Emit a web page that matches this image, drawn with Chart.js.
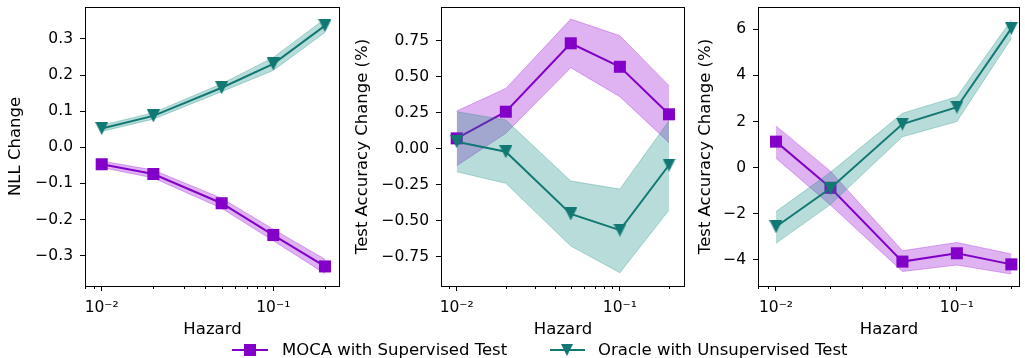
<!DOCTYPE html>
<html><head><meta charset="utf-8">
<script src="https://cdn.jsdelivr.net/npm/chart.js@4/dist/chart.umd.min.js"></script>
<style>
html,body{margin:0;padding:0;background:#fff;}
body{width:1025px;height:358px;position:relative;overflow:hidden;font-family:"DejaVu Sans";}
canvas{position:absolute;top:0;}
.leg{position:absolute;top:340px;height:20px;line-height:20px;font-size:16.5px;color:#000;white-space:nowrap;font-family:"DejaVu Sans";}
svg{position:absolute;left:0;top:338px;}
</style></head><body>
<canvas id="c1" width="345" height="358" style="left:0px"></canvas>
<canvas id="c2" width="345" height="358" style="left:345px"></canvas>
<canvas id="c3" width="335" height="358" style="left:690px"></canvas>
<svg width="1025" height="20">
  <line x1="232" y1="12" x2="268" y2="12" stroke="#8200c8" stroke-width="2"/>
  <rect x="244" y="6" width="12" height="12" fill="#8200c8"/>
  <line x1="550" y1="12" x2="585" y2="12" stroke="#127873" stroke-width="2"/>
  <polygon points="561,6 573,6 567,18" fill="#127873"/>
</svg>
<div class="leg" style="left:282px">MOCA with Supervised Test</div>
<div class="leg" style="left:598px">Oracle with Unsupervised Test</div>
<script>
// x categories (hazard)
const hazard = [0.01, 0.02, 0.05, 0.1, 0.2];

// Panel 1: NLL Change
const nllMoca     = [-0.047, -0.074, -0.155, -0.243, -0.330];
const nllMocaHi   = [-0.038, -0.063, -0.141, -0.227, -0.310];
const nllMocaLo   = [-0.056, -0.085, -0.169, -0.259, -0.350];
const nllOracle   = [0.052, 0.087, 0.165, 0.231, 0.337];
const nllOracleHi = [0.061, 0.096, 0.176, 0.249, 0.356];
const nllOracleLo = [0.044, 0.078, 0.154, 0.213, 0.318];

// Panel 2: Test Accuracy Change (%)
const accMoca     = [0.072, 0.257, 0.732, 0.569, 0.239];
const accMocaHi   = [0.262, 0.419, 0.900, 0.785, 0.438];
const accMocaLo   = [-0.118, 0.107, 0.563, 0.361, 0.042];
const accOracle   = [0.049, -0.021, -0.453, -0.565, -0.113];
const accOracleHi = [0.257, 0.200, -0.224, -0.280, 0.194];
const accOracleLo = [-0.160, -0.240, -0.676, -0.861, -0.426];

// Panel 3: Test Accuracy Change (%)
const acc2Moca     = [1.13, -0.87, -4.07, -3.71, -4.19];
const acc2MocaHi   = [1.81, -0.15, -3.60, -3.24, -3.74];
const acc2MocaLo   = [0.41, -1.62, -4.50, -4.22, -4.61];
const acc2Oracle   = [-2.56, -0.89, 1.89, 2.62, 6.04];
const acc2OracleHi = [-1.90, -0.20, 2.36, 3.08, 6.40];
const acc2OracleLo = [-3.28, -1.60, 1.34, 2.00, 5.60];

// tick values / labels
const nllTicks  = [-0.3, -0.2, -0.1, 0, 0.1, 0.2, 0.3];
const accTicks  = [-0.75, -0.5, -0.25, 0, 0.25, 0.5, 0.75];
const acc2Ticks = [-4, -2, 0, 2, 4, 6];
const xMajor = [0.01, 0.1];
const xMajorLabels = ['10\u207B\u00B2', '10\u207B\u00B9'];
const xMinor = [0.008, 0.009, 0.02, 0.03, 0.04, 0.05, 0.06, 0.07, 0.08, 0.09, 0.2];

const seriesNames = ['MOCA with Supervised Test', 'Oracle with Unsupervised Test'];
const xTitle = 'Hazard';

const PURPLE = '#8200c8', PURPLE_BAND = 'rgba(148,0,211,0.30)';
const TEAL = '#127873', TEAL_BAND = 'rgba(20,140,130,0.30)';

Chart.defaults.font.family = '"DejaVu Sans"';
Chart.defaults.color = '#000';

function triCanvas(color, size) {
  const c = document.createElement('canvas');
  c.width = size; c.height = size;
  const g = c.getContext('2d');
  g.fillStyle = color;
  g.beginPath(); g.moveTo(0, 0); g.lineTo(size, 0); g.lineTo(size / 2, size); g.closePath(); g.fill();
  return c;
}
const triTeal = triCanvas(TEAL, 13);

const isMajor = v => xMajor.some(m => Math.abs(m - v) < 1e-9);
const pts = arr => hazard.map((h, i) => ({x: h, y: arr[i]}));
const fmt = (v, d) => { const s = Math.abs(v).toFixed(d); return (v < -1e-12 ? '\u2212' : '') + s; };

const boxPlugin = {
  id: 'box',
  afterDraw(chart) {
    const {ctx, chartArea: a} = chart;
    const xs = chart.scales.x;
    ctx.save();
    ctx.strokeStyle = '#000';
    ctx.lineWidth = 1;
    xs.ticks.forEach(t => {
      if (!isMajor(t.value)) {
        const px = Math.round(xs.getPixelForValue(t.value)) + 0.5;
        ctx.beginPath(); ctx.moveTo(px, a.bottom); ctx.lineTo(px, a.bottom + 3); ctx.stroke();
      }
    });
    ctx.strokeRect(Math.round(a.left) + 0.5, Math.round(a.top) + 0.5, Math.round(a.right - a.left) - 1, Math.round(a.bottom - a.top));
    ctx.restore();
  }
};

function makeChart(id, p) {
  const band = (hi, lo, col, ord) => [
    {data: pts(hi), borderColor: col, backgroundColor: col, borderWidth: 1, pointRadius: 0, fill: '+1', order: ord, tension: 0},
    {data: pts(lo), borderColor: col, backgroundColor: col, borderWidth: 1, pointRadius: 0, fill: false, order: ord - 1, tension: 0}
  ];
  const datasets = [
    ...band(p.mHi, p.mLo, PURPLE_BAND, 6),
    {label: seriesNames[0], data: pts(p.m), borderColor: PURPLE, backgroundColor: PURPLE, borderWidth: 2,
     pointStyle: 'rect', pointRadius: 8.5, pointBorderWidth: 0, pointBackgroundColor: PURPLE, fill: false, order: 4, clip: false},
    ...band(p.oHi, p.oLo, TEAL_BAND, 3),
    {label: seriesNames[1], data: pts(p.o), borderColor: TEAL, backgroundColor: TEAL, borderWidth: 2,
     pointStyle: triTeal, pointRadius: 7, pointBorderWidth: 0, fill: false, order: 1, clip: false}
  ];
  return new Chart(document.getElementById(id), {
    type: 'line',
    data: {datasets},
    plugins: [boxPlugin],
    options: {
      responsive: false, animation: false, devicePixelRatio: 1,
      layout: {autoPadding: false, padding: {left: p.padL, right: 5, top: 7, bottom: 18.1}},
      plugins: {legend: {display: false}, tooltip: {enabled: false}},
      scales: {
        x: {
          type: 'logarithmic', min: p.xmin, max: p.xmax,
          afterBuildTicks: s => { s.ticks = xMajor.concat(xMinor).filter(v => v >= p.xmin && v <= p.xmax).sort((a, b) => a - b).map(v => ({value: v, major: isMajor(v)})); },
          afterFit: s => { s.height = 53.9; s.paddingLeft = 0; s.paddingRight = 0; s.paddingTop = 0; s.paddingBottom = 0; },
          ticks: {autoSkip: false, maxRotation: 0, minRotation: 0, padding: 8, font: {size: 15.5},
            callback: v => { const i = xMajor.findIndex(m => Math.abs(m - v) < 1e-9); return i >= 0 ? xMajorLabels[i] : ''; }},
          grid: {display: true, drawOnChartArea: false, drawTicks: true, tickLength: 5, tickWidth: 1,
            tickColor: c => (c.tick && isMajor(c.tick.value)) ? '#000' : 'rgba(0,0,0,0)'},
          border: {display: false},
          title: {display: true, text: xTitle, font: {size: 16.5}, padding: {top: 0, bottom: 0}}
        },
        y: {
          type: 'linear', min: p.ymin, max: p.ymax,
          afterBuildTicks: s => { s.ticks = p.yTicks.map(v => ({value: v})); },
          afterFit: s => { s.width = p.yW; s.paddingLeft = 0; s.paddingRight = 0; s.paddingTop = 0; s.paddingBottom = 0; },
          ticks: {padding: 7, font: {size: 15.5}, callback: v => fmt(v, p.dec)},
          grid: {display: true, drawOnChartArea: false, drawTicks: true, tickLength: 5, tickWidth: 1, tickColor: '#000'},
          border: {display: false},
          title: {display: true, text: p.yTitle, font: {size: 16.5}, padding: {top: 0, bottom: 0}}
        }
      }
    }
  });
}

makeChart('c1', {m: nllMoca, mHi: nllMocaHi, mLo: nllMocaLo, o: nllOracle, oHi: nllOracleHi, oLo: nllOracleLo,
  xmin: 0.007993, xmax: 0.2447, ymin: -0.3842, ymax: 0.3886, yTicks: nllTicks, dec: 1,
  yTitle: 'NLL Change', padL: 6.1, yW: 78.9});
makeChart('c2', {m: accMoca, mHi: accMocaHi, mLo: accMocaLo, o: accOracle, oHi: accOracleHi, oLo: accOracleLo,
  xmin: 0.008014, xmax: 0.2506, ymin: -0.953, ymax: 0.984, yTicks: accTicks, dec: 2,
  yTitle: 'Test Accuracy Change (%)', padL: 8.1, yW: 87.9});
makeChart('c3', {m: acc2Moca, mHi: acc2MocaHi, mLo: acc2MocaLo, o: acc2Oracle, oHi: acc2OracleHi, oLo: acc2OracleLo,
  xmin: 0.007954, xmax: 0.2233, ymin: -5.128, ymax: 6.966, yTicks: acc2Ticks, dec: 0,
  yTitle: 'Test Accuracy Change (%)', padL: 6.1, yW: 61.9});
</script>
</body></html>
